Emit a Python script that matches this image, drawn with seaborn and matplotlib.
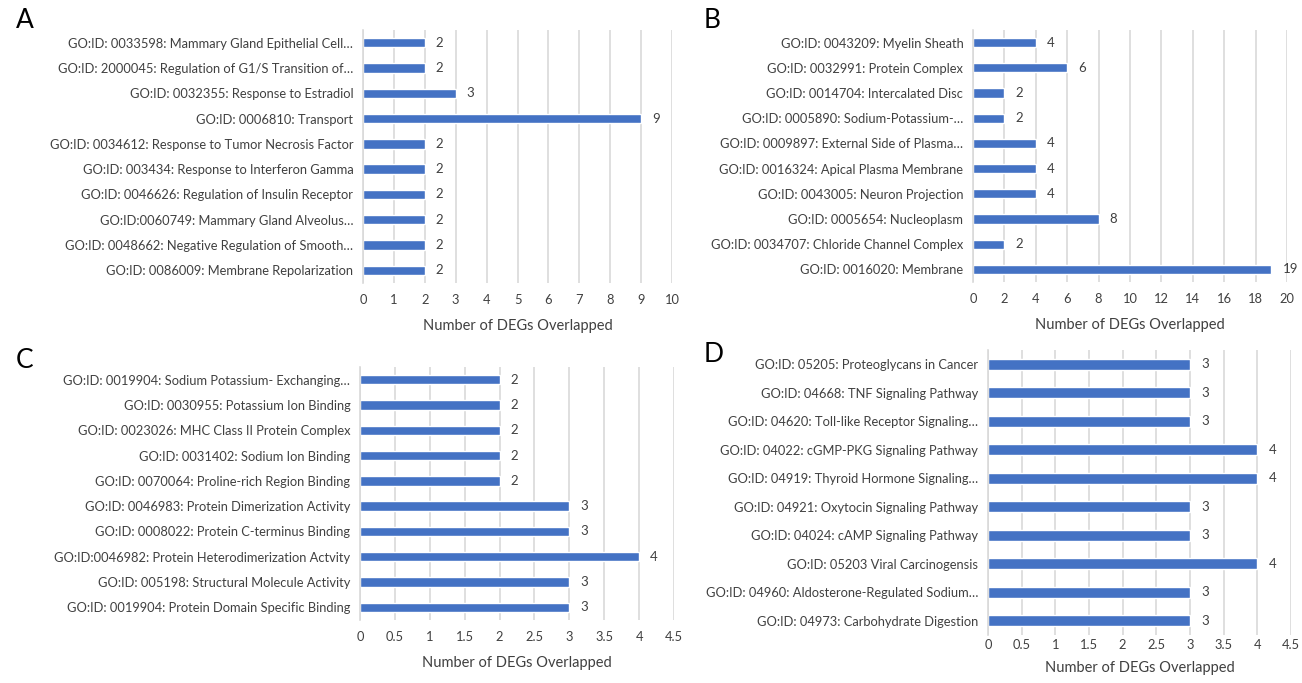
import matplotlib
matplotlib.use("Agg")
import matplotlib.pyplot as plt
import seaborn as sns
import pandas as pd
from matplotlib.ticker import FormatStrFormatter, MultipleLocator

sns.set_theme(style="white")
plt.rcParams['font.family'] = ['Lato', 'DejaVu Sans']

# ---------------- data ----------------
a_terms = [
    "GO:ID: 0033598: Mammary Gland Epithelial Cell…",
    "GO:ID: 2000045: Regulation of G1/S Transition of…",
    "GO:ID: 0032355: Response to Estradiol",
    "GO:ID: 0006810: Transport",
    "GO:ID: 0034612: Response to Tumor Necrosis Factor",
    "GO:ID: 003434: Response to Interferon Gamma",
    "GO:ID: 0046626: Regulation of Insulin Receptor",
    "GO:ID:0060749: Mammary Gland Alveolus…",
    "GO:ID: 0048662: Negative Regulation of Smooth…",
    "GO:ID: 0086009: Membrane Repolarization",
]
a_counts = [2, 2, 3, 9, 2, 2, 2, 2, 2, 2]

b_terms = [
    "GO:ID: 0043209: Myelin Sheath",
    "GO:ID: 0032991: Protein Complex",
    "GO:ID: 0014704: Intercalated Disc",
    "GO:ID: 0005890: Sodium-Potassium-…",
    "GO:ID: 0009897: External Side of Plasma…",
    "GO:ID: 0016324: Apical Plasma Membrane",
    "GO:ID: 0043005: Neuron Projection",
    "GO:ID: 0005654: Nucleoplasm",
    "GO:ID: 0034707: Chloride Channel Complex",
    "GO:ID: 0016020: Membrane",
]
b_counts = [4, 6, 2, 2, 4, 4, 4, 8, 2, 19]

c_terms = [
    "GO:ID: 0019904: Sodium Potassium- Exchanging…",
    "GO:ID: 0030955: Potassium Ion Binding",
    "GO:ID: 0023026: MHC Class II Protein Complex",
    "GO:ID: 0031402: Sodium Ion Binding",
    "GO:ID: 0070064: Proline-rich Region Binding",
    "GO:ID: 0046983: Protein Dimerization Activity",
    "GO:ID: 0008022: Protein C-terminus Binding",
    "GO:ID:0046982: Protein Heterodimerization Actvity",
    "GO:ID: 005198: Structural Molecule Activity",
    "GO:ID: 0019904: Protein Domain Specific Binding",
]
c_counts = [2, 2, 2, 2, 2, 3, 3, 4, 3, 3]

d_terms = [
    "GO:ID: 05205: Proteoglycans in Cancer",
    "GO:ID: 04668: TNF Signaling Pathway",
    "GO:ID: 04620: Toll-like Receptor Signaling…",
    "GO:ID: 04022: cGMP-PKG Signaling Pathway",
    "GO:ID: 04919: Thyroid Hormone Signaling…",
    "GO:ID: 04921: Oxytocin Signaling Pathway",
    "GO:ID: 04024: cAMP Signaling Pathway",
    "GO:ID: 05203 Viral Carcinogensis",
    "GO:ID: 04960: Aldosterone-Regulated Sodium…",
    "GO:ID: 04973: Carbohydrate Digestion",
]
d_counts = [3, 3, 3, 4, 4, 3, 3, 4, 3, 3]

x_label = "Number of DEGs Overlapped"

# ---------------- layout ----------------
W, H = 1302, 683
fig = plt.figure(figsize=(W / 100, H / 100), dpi=100)

def px_axes(left, right, top, bottom):
    return fig.add_axes([left / W, 1 - bottom / H, (right - left) / W, (bottom - top) / H])

BLUE = "#4472C4"
GRID = "#D9D9D9"
TXT = "#404040"

panels = [
    ("A", a_terms, a_counts, (363, 672, 30, 283), 10, 1, "%d", 0.37, (16, 21), 8, 9),
    ("B", b_terms, b_counts, (973, 1287, 30, 282), 20, 2, "%d", 0.37, (704, 21), 8, 9),
    ("C", c_terms, c_counts, (360, 674, 367, 620), 4.5, 0.5, "%g", 0.37, (16, 360), 8, 9),
    ("D", d_terms, d_counts, (988, 1291, 350, 635), 4.5, 0.5, "%g", 0.37, (704, 355), 3, 7),
]

for letter, terms, counts, box, xmax, step, fmt, bw, lpos, tpad, lpad in panels:
    ax = px_axes(*box)
    df = pd.DataFrame({"term": terms, "count": counts})
    sns.barplot(data=df, x="count", y="term", orient="h", color=BLUE,
                width=bw, ax=ax, saturation=1)
    ax.set_xlim(0, xmax)
    ax.xaxis.set_major_locator(MultipleLocator(step))
    ax.xaxis.set_major_formatter(FormatStrFormatter(fmt))
    ax.grid(axis="x", color=GRID, linewidth=1.2)
    ax.grid(axis="y", visible=False)
    ax.set_axisbelow(True)
    for s in ["top", "right", "bottom"]:
        ax.spines[s].set_visible(False)
    ax.spines["left"].set_color(GRID)
    ax.spines["left"].set_linewidth(1.2)
    ax.tick_params(axis="both", length=0, labelsize=9.3, labelcolor=TXT)
    ax.tick_params(axis="x", pad=tpad)
    ax.tick_params(axis="y", pad=7)
    ax.set_ylabel("")
    ax.set_xlabel(x_label, fontsize=10.5, color=TXT, labelpad=lpad)
    for c in ax.containers:
        ax.bar_label(c, fmt="%d", padding=8, fontsize=9.5, color=TXT)
    fig.text(lpos[0] / W, 1 - lpos[1] / H, letter, fontsize=19, color="black",
             ha="left", va="center")

fig.savefig("out.png", dpi=100, facecolor="white")
